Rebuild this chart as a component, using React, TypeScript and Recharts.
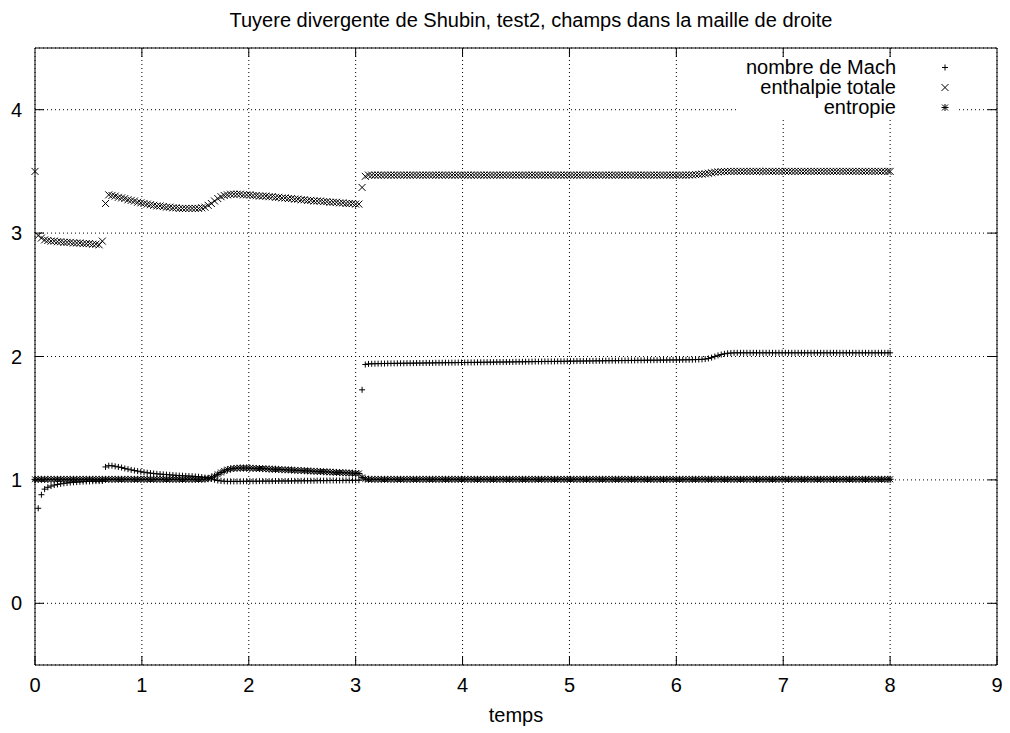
import React from 'react';
import { ScatterChart, Scatter, XAxis, YAxis, CartesianGrid, ReferenceLine } from 'recharts';

const W = 1010;
const H = 733;

const titleText = 'Tuyere divergente de Shubin, test2, champs dans la maille de droite';
const xLabel = 'temps';
const seriesNames = ['nombre de Mach', 'enthalpie totale', 'entropie'];
const xTicks = [0, 1, 2, 3, 4, 5, 6, 7, 8, 9];
const yTicks = [0, 1, 2, 3, 4];

const temps = [
  0, 0.03, 0.06, 0.09, 0.12, 0.15, 0.18, 0.21, 0.24, 0.27,
  0.3, 0.33, 0.36, 0.39, 0.42, 0.45, 0.48, 0.51, 0.54, 0.57,
  0.6, 0.63, 0.66, 0.69, 0.72, 0.75, 0.78, 0.81, 0.84, 0.87,
  0.9, 0.93, 0.96, 0.99, 1.02, 1.05, 1.08, 1.11, 1.14, 1.17,
  1.2, 1.23, 1.26, 1.29, 1.32, 1.35, 1.38, 1.41, 1.44, 1.47,
  1.5, 1.53, 1.56, 1.59, 1.62, 1.65, 1.68, 1.71, 1.74, 1.77,
  1.8, 1.83, 1.86, 1.89, 1.92, 1.95, 1.98, 2.01, 2.04, 2.07,
  2.1, 2.13, 2.16, 2.19, 2.22, 2.25, 2.28, 2.31, 2.34, 2.37,
  2.4, 2.43, 2.46, 2.49, 2.52, 2.55, 2.58, 2.61, 2.64, 2.67,
  2.7, 2.73, 2.76, 2.79, 2.82, 2.85, 2.88, 2.91, 2.94, 2.97,
  3, 3.03, 3.06, 3.09, 3.12, 3.15, 3.18, 3.21, 3.24, 3.27,
  3.3, 3.33, 3.36, 3.39, 3.42, 3.45, 3.48, 3.51, 3.54, 3.57,
  3.6, 3.63, 3.66, 3.69, 3.72, 3.75, 3.78, 3.81, 3.84, 3.87,
  3.9, 3.93, 3.96, 3.99, 4.02, 4.05, 4.08, 4.11, 4.14, 4.17,
  4.2, 4.23, 4.26, 4.29, 4.32, 4.35, 4.38, 4.41, 4.44, 4.47,
  4.5, 4.53, 4.56, 4.59, 4.62, 4.65, 4.68, 4.71, 4.74, 4.77,
  4.8, 4.83, 4.86, 4.89, 4.92, 4.95, 4.98, 5.01, 5.04, 5.07,
  5.1, 5.13, 5.16, 5.19, 5.22, 5.25, 5.28, 5.31, 5.34, 5.37,
  5.4, 5.43, 5.46, 5.49, 5.52, 5.55, 5.58, 5.61, 5.64, 5.67,
  5.7, 5.73, 5.76, 5.79, 5.82, 5.85, 5.88, 5.91, 5.94, 5.97,
  6, 6.03, 6.06, 6.09, 6.12, 6.15, 6.18, 6.21, 6.24, 6.27,
  6.3, 6.33, 6.36, 6.39, 6.42, 6.45, 6.48, 6.51, 6.54, 6.57,
  6.6, 6.63, 6.66, 6.69, 6.72, 6.75, 6.78, 6.81, 6.84, 6.87,
  6.9, 6.93, 6.96, 6.99, 7.02, 7.05, 7.08, 7.11, 7.14, 7.17,
  7.2, 7.23, 7.26, 7.29, 7.32, 7.35, 7.38, 7.41, 7.44, 7.47,
  7.5, 7.53, 7.56, 7.59, 7.62, 7.65, 7.68, 7.71, 7.74, 7.77,
  7.8, 7.83, 7.86, 7.89, 7.92, 7.95, 7.98, 8,
];

const mach = [
  1, 0.77, 0.88, 0.925, 0.94, 0.95, 0.958, 0.963, 0.968, 0.972,
  0.975, 0.978, 0.98, 0.982, 0.984, 0.986, 0.987, 0.988, 0.989, 0.99,
  0.99, 0.991, 1.105, 1.115, 1.115, 1.11, 1.105, 1.1, 1.093, 1.087,
  1.081, 1.076, 1.071, 1.066, 1.062, 1.058, 1.055, 1.052, 1.049, 1.047,
  1.045, 1.043, 1.041, 1.039, 1.037, 1.035, 1.034, 1.032, 1.031, 1.03,
  1.028, 1.026, 1.023, 1.019, 1.014, 1.008, 1.001, 0.995, 0.991, 0.989,
  0.988, 0.988, 0.988, 0.988, 0.988, 0.989, 0.989, 0.989, 0.989, 0.989,
  0.99, 0.99, 0.99, 0.99, 0.99, 0.991, 0.991, 0.991, 0.991, 0.991,
  0.992, 0.992, 0.992, 0.992, 0.993, 0.993, 0.993, 0.993, 0.994, 0.994,
  0.994, 0.994, 0.995, 0.995, 0.995, 0.995, 0.996, 0.996, 0.996, 0.996,
  0.997, 0.997, 1.73, 1.935, 1.94, 1.941, 1.942, 1.942, 1.943, 1.943,
  1.944, 1.944, 1.944, 1.945, 1.945, 1.945, 1.946, 1.946, 1.946, 1.947,
  1.947, 1.947, 1.948, 1.948, 1.948, 1.949, 1.949, 1.949, 1.95, 1.95,
  1.95, 1.95, 1.951, 1.951, 1.951, 1.952, 1.952, 1.952, 1.953, 1.953,
  1.953, 1.954, 1.954, 1.954, 1.955, 1.955, 1.955, 1.956, 1.956, 1.956,
  1.957, 1.957, 1.957, 1.958, 1.958, 1.958, 1.959, 1.959, 1.959, 1.96,
  1.96, 1.96, 1.96, 1.961, 1.961, 1.961, 1.962, 1.962, 1.962, 1.963,
  1.963, 1.963, 1.964, 1.964, 1.964, 1.965, 1.965, 1.965, 1.966, 1.966,
  1.966, 1.966, 1.967, 1.967, 1.967, 1.968, 1.968, 1.968, 1.969, 1.969,
  1.969, 1.97, 1.97, 1.97, 1.97, 1.971, 1.971, 1.971, 1.972, 1.972,
  1.972, 1.972, 1.973, 1.973, 1.974, 1.974, 1.975, 1.976, 1.977, 1.979,
  1.984, 1.991, 2.0, 2.009, 2.016, 2.022, 2.026, 2.028, 2.03, 2.03,
  2.03, 2.03, 2.03, 2.03, 2.03, 2.03, 2.03, 2.03, 2.03, 2.03,
  2.03, 2.03, 2.03, 2.03, 2.03, 2.03, 2.03, 2.03, 2.03, 2.03,
  2.03, 2.03, 2.03, 2.03, 2.03, 2.03, 2.03, 2.03, 2.03, 2.03,
  2.03, 2.03, 2.03, 2.03, 2.03, 2.03, 2.03, 2.03, 2.03, 2.03,
  2.03, 2.03, 2.03, 2.03, 2.03, 2.03, 2.03, 2.03,
];

const enthalpie = [
  3.5, 2.98, 2.96, 2.945, 2.94, 2.935, 2.935, 2.93, 2.93, 2.925,
  2.925, 2.925, 2.92, 2.92, 2.92, 2.915, 2.915, 2.915, 2.91, 2.91,
  2.905, 2.935, 3.24, 3.31, 3.305, 3.3, 3.29, 3.285, 3.28, 3.27,
  3.265, 3.26, 3.25, 3.245, 3.24, 3.235, 3.23, 3.225, 3.22, 3.22,
  3.215, 3.21, 3.21, 3.205, 3.205, 3.2, 3.2, 3.2, 3.2, 3.2,
  3.2, 3.2, 3.205, 3.21, 3.225, 3.24, 3.26, 3.28, 3.295, 3.305,
  3.31, 3.315, 3.315, 3.315, 3.315, 3.31, 3.31, 3.31, 3.305, 3.305,
  3.3, 3.3, 3.3, 3.295, 3.295, 3.29, 3.29, 3.285, 3.285, 3.28,
  3.28, 3.275, 3.275, 3.27, 3.27, 3.265, 3.265, 3.26, 3.26, 3.26,
  3.255, 3.255, 3.25, 3.25, 3.25, 3.245, 3.245, 3.24, 3.24, 3.24,
  3.235, 3.235, 3.37, 3.46, 3.47, 3.47, 3.47, 3.47, 3.47, 3.47,
  3.47, 3.47, 3.47, 3.47, 3.47, 3.47, 3.47, 3.47, 3.47, 3.47,
  3.47, 3.47, 3.47, 3.47, 3.47, 3.47, 3.47, 3.47, 3.47, 3.47,
  3.47, 3.47, 3.47, 3.47, 3.47, 3.47, 3.47, 3.47, 3.47, 3.47,
  3.47, 3.47, 3.47, 3.47, 3.47, 3.47, 3.47, 3.47, 3.47, 3.47,
  3.47, 3.47, 3.47, 3.47, 3.47, 3.47, 3.47, 3.47, 3.47, 3.47,
  3.47, 3.47, 3.47, 3.47, 3.47, 3.47, 3.47, 3.47, 3.47, 3.47,
  3.47, 3.47, 3.47, 3.47, 3.47, 3.47, 3.47, 3.47, 3.47, 3.47,
  3.47, 3.47, 3.47, 3.47, 3.47, 3.47, 3.47, 3.47, 3.47, 3.47,
  3.47, 3.47, 3.47, 3.47, 3.47, 3.47, 3.47, 3.47, 3.47, 3.47,
  3.47, 3.47, 3.47, 3.47, 3.471, 3.472, 3.474, 3.476, 3.478, 3.481,
  3.485, 3.489, 3.493, 3.496, 3.498, 3.499, 3.5, 3.5, 3.5, 3.5,
  3.5, 3.5, 3.5, 3.5, 3.5, 3.5, 3.5, 3.5, 3.5, 3.5,
  3.5, 3.5, 3.5, 3.5, 3.5, 3.5, 3.5, 3.5, 3.5, 3.5,
  3.5, 3.5, 3.5, 3.5, 3.5, 3.5, 3.5, 3.5, 3.5, 3.5,
  3.5, 3.5, 3.5, 3.5, 3.5, 3.5, 3.5, 3.5, 3.5, 3.5,
  3.5, 3.5, 3.5, 3.5, 3.5, 3.5, 3.5, 3.5,
];

const entropie = [
  1.005, 1.005, 1.005, 1.005, 1.005, 1.005, 1.005, 1.005, 1.005, 1.005,
  1.005, 1.005, 1.005, 1.005, 1.005, 1.005, 1.005, 1.005, 1.005, 1.005,
  1.005, 1.005, 1.005, 1.005, 1.005, 1.005, 1.005, 1.005, 1.005, 1.005,
  1.005, 1.005, 1.005, 1.005, 1.005, 1.005, 1.005, 1.005, 1.005, 1.005,
  1.005, 1.005, 1.005, 1.005, 1.005, 1.005, 1.005, 1.005, 1.005, 1.005,
  1.005, 1.005, 1.005, 1.006, 1.01, 1.018, 1.03, 1.045, 1.06, 1.073,
  1.083, 1.089, 1.093, 1.095, 1.096, 1.096, 1.096, 1.095, 1.094, 1.093,
  1.092, 1.091, 1.09, 1.088, 1.087, 1.086, 1.085, 1.083, 1.082, 1.081,
  1.08, 1.078, 1.077, 1.076, 1.074, 1.073, 1.072, 1.07, 1.069, 1.068,
  1.066, 1.065, 1.064, 1.062, 1.061, 1.06, 1.058, 1.057, 1.056, 1.055,
  1.053, 1.052, 1.02, 1.008, 1.005, 1.005, 1.005, 1.005, 1.005, 1.005,
  1.005, 1.005, 1.005, 1.005, 1.005, 1.005, 1.005, 1.005, 1.005, 1.005,
  1.005, 1.005, 1.005, 1.005, 1.005, 1.005, 1.005, 1.005, 1.005, 1.005,
  1.005, 1.005, 1.005, 1.005, 1.005, 1.005, 1.005, 1.005, 1.005, 1.005,
  1.005, 1.005, 1.005, 1.005, 1.005, 1.005, 1.005, 1.005, 1.005, 1.005,
  1.005, 1.005, 1.005, 1.005, 1.005, 1.005, 1.005, 1.005, 1.005, 1.005,
  1.005, 1.005, 1.005, 1.005, 1.005, 1.005, 1.005, 1.005, 1.005, 1.005,
  1.005, 1.005, 1.005, 1.005, 1.005, 1.005, 1.005, 1.005, 1.005, 1.005,
  1.005, 1.005, 1.005, 1.005, 1.005, 1.005, 1.005, 1.005, 1.005, 1.005,
  1.005, 1.005, 1.005, 1.005, 1.005, 1.005, 1.005, 1.005, 1.005, 1.005,
  1.005, 1.005, 1.005, 1.005, 1.005, 1.005, 1.005, 1.005, 1.005, 1.005,
  1.005, 1.005, 1.005, 1.005, 1.005, 1.005, 1.005, 1.005, 1.005, 1.005,
  1.005, 1.005, 1.005, 1.005, 1.005, 1.005, 1.005, 1.005, 1.005, 1.005,
  1.005, 1.005, 1.005, 1.005, 1.005, 1.005, 1.005, 1.005, 1.005, 1.005,
  1.005, 1.005, 1.005, 1.005, 1.005, 1.005, 1.005, 1.005, 1.005, 1.005,
  1.005, 1.005, 1.005, 1.005, 1.005, 1.005, 1.005, 1.005, 1.005, 1.005,
  1.005, 1.005, 1.005, 1.005, 1.005, 1.005, 1.005, 1.005,
];

const machData = temps.map((t, i) => ({ t, v: mach[i] }));
const enthalpieData = temps.map((t, i) => ({ t, v: enthalpie[i] }));
const entropieData = temps.map((t, i) => ({ t, v: entropie[i] }));

const FONT = "'Liberation Sans', Arial, Helvetica, sans-serif";
const FS = 20;
const RP = 3;
const RX = 3.5;

const plusPath = (x: number, y: number, r: number) => `M${x - r},${y}H${x + r}M${x},${y - r}V${y + r}`;
const crossPath = (x: number, y: number, r: number) => `M${x - r},${y - r}L${x + r},${y + r}M${x - r},${y + r}L${x + r},${y - r}`;
const starPath = (x: number, y: number, r: number) => plusPath(x, y, r) + crossPath(x, y, r * 0.85);

const PlusShape = (p: any) => <path d={plusPath(p.cx, p.cy, RP)} stroke="#000" strokeWidth={1} fill="none" />;
const CrossShape = (p: any) => <path d={crossPath(p.cx, p.cy, RX)} stroke="#000" strokeWidth={1} fill="none" />;
const StarShape = (p: any) => <path d={starPath(p.cx, p.cy, RX)} stroke="#000" strokeWidth={1} fill="none" />;

const legendMarkers = [
  (x: number, y: number) => plusPath(x, y, RP),
  (x: number, y: number) => crossPath(x, y, RX),
  (x: number, y: number) => starPath(x, y, RX),
];

const TICK = 9;

export default function App() {
  return (
    <div style={{ position: 'absolute', left: 0, top: 0, width: W, height: H, background: '#fff', fontFamily: FONT }}>
      <ScatterChart width={W} height={H} margin={{ top: 48, right: 13, bottom: 0, left: 0 }}>
        <CartesianGrid stroke="#000" strokeDasharray="1 3" strokeWidth={1} />
        <XAxis
          type="number"
          dataKey="t"
          domain={[0, 9]}
          ticks={xTicks}
          height={68}
          stroke="#000"
          tickSize={-TICK}
          tickMargin={22}
          tick={{ fill: '#000', fontSize: FS, fontFamily: FONT }}
        />
        <YAxis
          type="number"
          dataKey="v"
          domain={[-0.5, 4.5]}
          ticks={yTicks}
          width={35}
          stroke="#000"
          tickSize={-TICK}
          tickMargin={22}
          tick={{ fill: '#000', fontSize: FS, fontFamily: FONT }}
        />
        <ReferenceLine y={4.5} stroke="#000" strokeWidth={1} />
        <ReferenceLine x={9} stroke="#000" strokeWidth={1} />
        {xTicks.slice(1, -1).map((k) => (
          <ReferenceLine key={'tt' + k} segment={[{ x: k, y: 4.5 }, { x: k, y: 4.5 - TICK / 124 }]} stroke="#000" />
        ))}
        {yTicks.map((k) => (
          <ReferenceLine key={'rt' + k} segment={[{ x: 9, y: k }, { x: 9 - TICK / 106.9, y: k }]} stroke="#000" />
        ))}
        <Scatter name={seriesNames[0]} data={machData} shape={PlusShape} isAnimationActive={false} />
        <Scatter name={seriesNames[1]} data={enthalpieData} shape={CrossShape} isAnimationActive={false} />
        <Scatter name={seriesNames[2]} data={entropieData} shape={StarShape} isAnimationActive={false} />
      </ScatterChart>
      <svg width={W} height={H} style={{ position: 'absolute', left: 0, top: 0, pointerEvents: 'none' }}>
        <text x={531} y={27} textAnchor="middle" fontSize={FS} fontFamily={FONT} fill="#000">{titleText}</text>
        <text x={516} y={722} textAnchor="middle" fontSize={FS} fontFamily={FONT} fill="#000">{xLabel}</text>
        <rect x={736} y={58} width={222} height={60} fill="#fff" />
        {seriesNames.map((n, i) => (
          <g key={n}>
            <text x={896} y={74 + i * 20} textAnchor="end" fontSize={FS} fontFamily={FONT} fill="#000">{n}</text>
            <path d={legendMarkers[i](945, 67.5 + i * 20)} stroke="#000" strokeWidth={1} fill="none" />
          </g>
        ))}
      </svg>
    </div>
  );
}
